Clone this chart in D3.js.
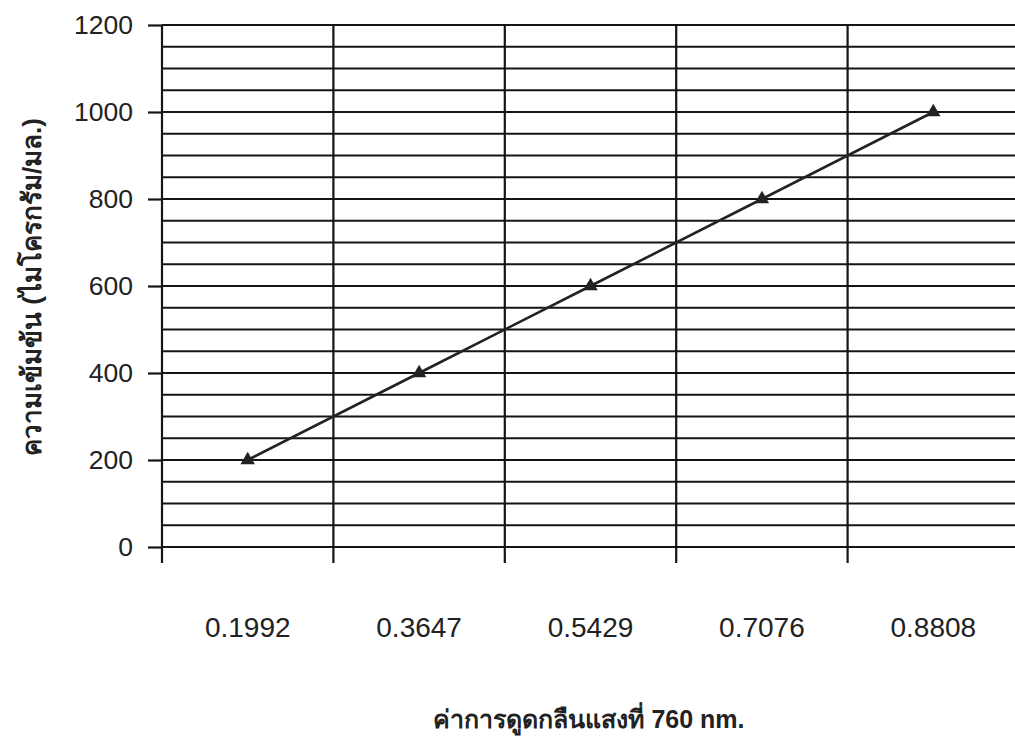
<!DOCTYPE html>
<html lang="th">
<head>
<meta charset="utf-8">
<style>
  body { margin: 0; background: #fff; }
  svg { display: block; font-family: "Liberation Sans", Arial, sans-serif; }
</style>
</head>
<body>
<script src="https://d3js.org/d3.v7.min.js"></script>
<script>
var categories = ["0.1992", "0.3647", "0.5429", "0.7076", "0.8808"];
var values = [200, 400, 600, 800, 1000];
var yTicks = [0, 200, 400, 600, 800, 1000, 1200];

var width = 1015, height = 739;
var margin = { left: 162, top: 25 };
var plotW = 857, plotH = 522;

var svg = d3.select("body").append("svg")
    .attr("width", width)
    .attr("height", height);

var g = svg.append("g")
    .attr("transform", "translate(" + margin.left + "," + margin.top + ")");

var x = d3.scaleBand().domain(categories).range([0, plotW]);
var y = d3.scaleLinear().domain([0, 1200]).range([plotH, 0]);

// horizontal gridlines every 50
g.append("g").selectAll("line")
    .data(d3.range(0, 1201, 50))
    .enter().append("line")
    .attr("x1", 0).attr("x2", plotW)
    .attr("y1", function (d) { return y(d); })
    .attr("y2", function (d) { return y(d); })
    .attr("stroke", "#151515")
    .attr("stroke-width", 2.2);

// vertical lines at band edges, extending below the axis as ticks
var edges = categories.map(function (c) { return x(c); }).concat([plotW]);
g.append("g").selectAll("line")
    .data(edges)
    .enter().append("line")
    .attr("x1", function (d) { return d; })
    .attr("x2", function (d) { return d; })
    .attr("y1", 0).attr("y2", plotH + 16)
    .attr("stroke", "#151515")
    .attr("stroke-width", 2.2);

// y axis
var yAxis = d3.axisLeft(y).tickValues(yTicks).tickFormat(d3.format("d")).tickSize(14).tickPadding(15);
var ya = g.append("g").call(yAxis);
ya.attr("font-size", null).attr("font-family", null);
ya.select(".domain").remove();
ya.selectAll(".tick line").attr("stroke", "#151515").attr("stroke-width", 2.2);
ya.selectAll(".tick text")
    .attr("font-size", 26.5)
    .attr("fill", "#222");

// x labels
var xAxis = d3.axisBottom(x).tickSize(0).tickPadding(70);
var xa = g.append("g").attr("transform", "translate(0," + plotH + ")").call(xAxis);
xa.attr("font-size", null).attr("font-family", null);
xa.select(".domain").remove();
xa.selectAll(".tick text")
    .attr("font-size", 28)
    .attr("fill", "#222");

// line
var line = d3.line()
    .x(function (d, i) { return x(categories[i]) + x.bandwidth() / 2; })
    .y(function (d) { return y(d); });

g.append("path")
    .datum(values)
    .attr("d", line)
    .attr("fill", "none")
    .attr("stroke", "#222")
    .attr("stroke-width", 2.6);

g.selectAll(".pt")
    .data(values)
    .enter().append("path")
    .attr("class", "pt")
    .attr("d", d3.symbol().type(d3.symbolTriangle).size(90))
    .attr("transform", function (d, i) {
        return "translate(" + (x(categories[i]) + x.bandwidth() / 2) + "," + y(d) + ")";
    })
    .attr("fill", "#222");

// axis titles
svg.append("text")
    .attr("x", 589).attr("y", 728)
    .attr("text-anchor", "middle")
    .attr("font-size", 25)
    .attr("font-weight", "bold")
    .attr("fill", "#222")
    .text("ค่าการดูดกลืนแสงที่ 760 nm.");

svg.append("text")
    .attr("transform", "translate(41,287) rotate(-90)")
    .attr("text-anchor", "middle")
    .attr("font-size", 26)
    .attr("font-weight", "bold")
    .attr("fill", "#222")
    .text("ความเข้มข้น (ไมโครกรัม/มล.)");
</script>
</body>
</html>
